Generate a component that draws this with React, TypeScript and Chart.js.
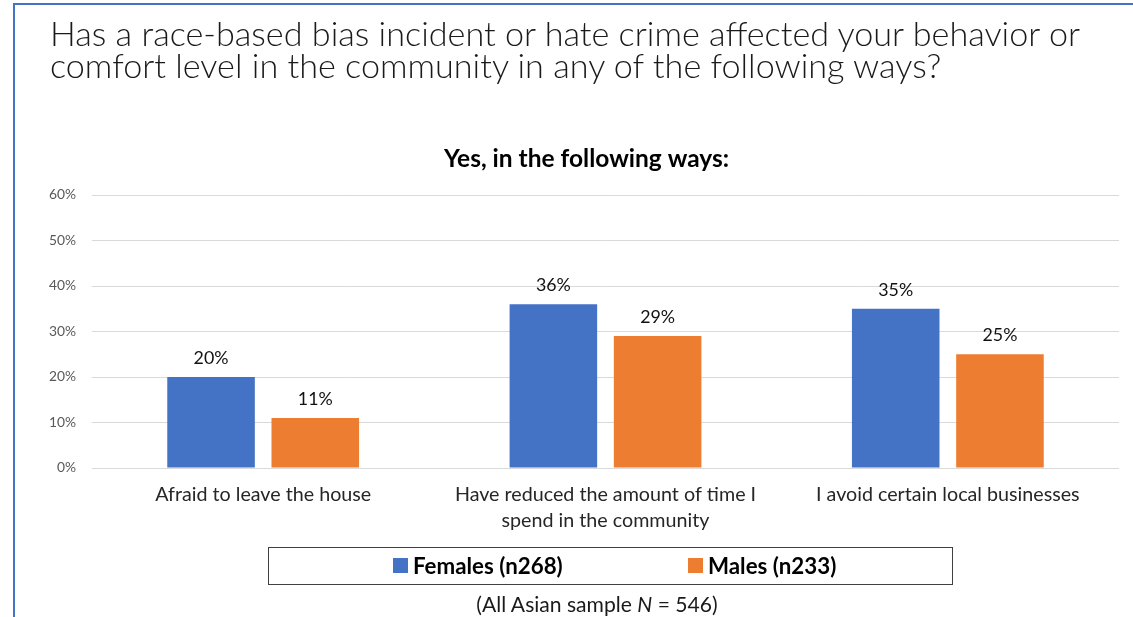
import React, { useEffect, useRef } from 'react';
import { Chart, registerables } from 'chart.js';

Chart.register(...registerables);

const categories: (string | string[])[] = [
  'Afraid to leave the house',
  ['Have reduced the amount of time I', 'spend in the community'],
  'I avoid certain local businesses',
];
const femalesValues = [20, 36, 35];
const malesValues = [11, 29, 25];
const seriesLabels = ['Females (n268)', 'Males (n233)'];
const seriesColors = ['#4472C4', '#ED7D31'];
const yTicks = [0, 10, 20, 30, 40, 50, 60];

const slideTitle = [
  'Has a race-based bias incident or hate crime affected your behavior or',
  'comfort level in the community in any of the following ways?',
];
const chartTitle = 'Yes, in the following ways:';

const FONT = 'Lato, "Open Sans", sans-serif';

const valueLabels = {
  id: 'valueLabels',
  afterDatasetsDraw(chart: any, _a: any, o: any) {
    const { ctx } = chart;
    ctx.save();
    ctx.font = o.font;
    ctx.fillStyle = o.color;
    ctx.textAlign = 'center';
    ctx.textBaseline = 'alphabetic';
    chart.data.datasets.forEach((ds: any, i: number) => {
      const meta = chart.getDatasetMeta(i);
      meta.data.forEach((el: any, j: number) => {
        ctx.fillText(ds.data[j] + '%', el.x, el.y - o.offset);
      });
    });
    ctx.restore();
  },
};

const boxedLegend = {
  id: 'boxedLegend',
  afterDraw(chart: any, _a: any, o: any) {
    const { ctx } = chart;
    ctx.save();
    ctx.strokeStyle = o.borderColor;
    ctx.lineWidth = 1;
    ctx.strokeRect(o.left + 0.5, o.top + 0.5, o.width, o.height);
    ctx.font = o.font;
    ctx.textBaseline = 'middle';
    ctx.textAlign = 'left';
    const cy = o.top + o.height / 2;
    chart.data.datasets.forEach((ds: any, i: number) => {
      const x = o.itemX[i];
      ctx.fillStyle = ds.backgroundColor;
      ctx.fillRect(x, cy - o.box / 2, o.box, o.box);
      ctx.fillStyle = o.color;
      ctx.fillText(ds.label, x + o.box + o.gap, cy + 1);
    });
    ctx.restore();
  },
};

const titleShift = {
  id: 'titleShift',
  afterLayout(chart: any, _a: any, o: any) {
    const t = chart.titleBlock;
    if (t) {
      t.left += o.dx;
      t.right += o.dx;
    }
  },
};

export default function App() {
  const ref = useRef<HTMLCanvasElement>(null);

  useEffect(() => {
    if (!ref.current) return;
    const chart = new Chart(ref.current, {
      type: 'bar',
      data: {
        labels: categories,
        datasets: [
          { label: seriesLabels[0], data: femalesValues, backgroundColor: seriesColors[0], categoryPercentage: 0.609, barPercentage: 0.84 },
          { label: seriesLabels[1], data: malesValues, backgroundColor: seriesColors[1], categoryPercentage: 0.609, barPercentage: 0.84 },
        ],
      },
      options: {
        responsive: false,
        animation: false,
        devicePixelRatio: 1,
        layout: { padding: { left: 0, right: 14, top: 145, bottom: 79 } },
        scales: {
          x: {
            grid: { display: false, drawTicks: false },
            border: { display: false },
            ticks: { color: '#262626', font: { family: FONT, size: 19.7, lineHeight: '26px' as any }, padding: 14, maxRotation: 0, autoSkip: false },
            afterFit: (s: any) => { s.height = 70; },
          },
          y: {
            min: 0,
            max: 60,
            afterBuildTicks: (s: any) => { s.ticks = yTicks.map((v) => ({ value: v })); },
            grid: { color: '#d9d9d9', drawTicks: false },
            border: { display: false },
            ticks: { color: '#595959', font: { family: FONT, size: 13.8 }, padding: 16, callback: (v: any) => v + '%' },
            afterFit: (s: any) => { s.width = 92; },
          },
        },
        plugins: {
          legend: { display: false },
          tooltip: { enabled: false },
          title: {
            display: true,
            text: chartTitle,
            color: '#000',
            font: { family: FONT, size: 24.5, weight: 'bold', lineHeight: '28px' as any },
            padding: { top: 0, bottom: 22 },
          },
          titleShift: { dx: 27 },
          valueLabels: { font: `17.8px ${FONT}`, color: '#111', offset: 13 },
          boxedLegend: {
            left: 268, top: 547, width: 684, height: 37, box: 15, gap: 5,
            itemX: [393, 688], borderColor: '#404040', color: '#000',
            font: `bold 22.3px ${FONT}`,
          },
        } as any,
      },
      plugins: [valueLabels, boxedLegend, titleShift],
    });
    return () => chart.destroy();
  }, []);

  return (
    <div style={{ position: 'fixed', left: 0, top: 0, width: 1133, height: 617, background: '#fff', overflow: 'hidden' }}>
      <div style={{ position: 'absolute', left: 13, top: 3, width: 1200, height: 700, borderLeft: '2px solid #4472C4', borderTop: '2px solid #4472C4' }} />
      <canvas ref={ref} width={1133} height={617} style={{ position: 'absolute', left: 0, top: 0, width: 1133, height: 617 }} />
      <div style={{ position: 'absolute', left: 50, top: 17, fontFamily: FONT, fontWeight: 300, fontSize: 34.2, lineHeight: '32px', color: '#1a1a1a', whiteSpace: 'nowrap' }}>
        {slideTitle.map((l, i) => <div key={i}>{l}</div>)}
      </div>
      <div style={{ position: 'absolute', left: 0, width: 1194, top: 592, textAlign: 'center', fontFamily: FONT, fontSize: 21.1, lineHeight: '24px', color: '#1a1a1a', whiteSpace: 'nowrap' }}>
        (All Asian sample <i>N</i> = 546)
      </div>
    </div>
  );
}
